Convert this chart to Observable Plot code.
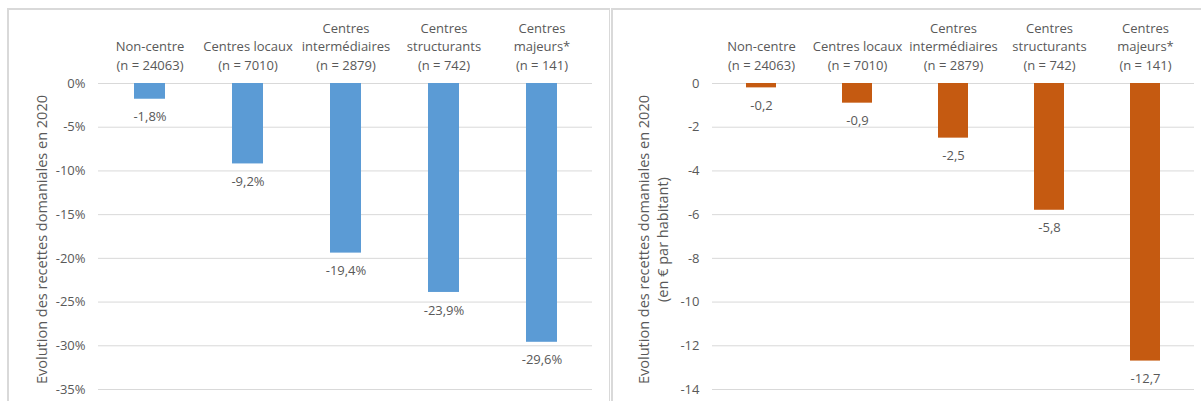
<!DOCTYPE html>
<html>
<head>
<meta charset="utf-8">
<script src="https://cdn.jsdelivr.net/npm/d3@7"></script>
<script src="https://cdn.jsdelivr.net/npm/@observablehq/plot@0.6"></script>
<style>
  html, body { margin: 0; padding: 0; background: #fff; }
  #wrap { position: relative; width: 1201px; height: 401px; overflow: hidden; background: #fff; }
  .panel { position: absolute; top: 8px; height: 420px; border: 1px solid #d9d9d9; box-sizing: border-box; }
  .chart { position: absolute; top: 0; }
</style>
</head>
<body>
<div id="wrap">
  <div class="panel" style="left:7px; width:603px; border-width:2px 1px 1px 2px;"></div>
  <div class="panel" style="left:611px; width:620px; border-width:2px 1px 1px 2px;"></div>
  <div class="chart" id="left" style="left:0px;"></div>
  <div class="chart" id="right" style="left:611px;"></div>
</div>
<script>
const categories = [
  "Non-centre\n(n = 24063)",
  "Centres locaux\n(n = 7010)",
  "Centres\nintermédiaires\n(n = 2879)",
  "Centres\nstructurants\n(n = 742)",
  "Centres\nmajeurs*\n(n = 141)"
];
const pctValues = [-1.8, -9.2, -19.4, -23.9, -29.6];
const perHabValues = [-0.2, -0.9, -2.5, -5.8, -12.7];
const pctTicks = [0, -5, -10, -15, -20, -25, -30, -35];
const perHabTicks = [0, -2, -4, -6, -8, -10, -12, -14];
const leftTitle = "Evolution des recettes domaniales en 2020";
const rightTitle = "Evolution des recettes domaniales en 2020\n(en € par habitant)";

const gray = "#595959";
const fmt = (v) => v.toFixed(1).replace(".", ",");

function makeChart({values, ticks, domain, color, tickFmt, labelFmt, title, width, marginLeft, marginRight, titleDx}) {
  const data = categories.map((c, i) => ({cat: c, v: values[i]}));
  return Plot.plot({
    width,
    height: 401,
    marginTop: 83,
    marginBottom: 12,
    marginLeft,
    marginRight,
    style: {fontFamily: "'Open Sans', sans-serif", fontSize: "13px", color: gray, background: "transparent", overflow: "visible"},
    x: {domain: categories, paddingInner: 0.686, paddingOuter: 0.343, align: 0.5},
    y: {domain, ticks, nice: false},
    marks: [
      Plot.gridY(ticks, {stroke: "#d9d9d9", strokeOpacity: 1, strokeWidth: 1}),
      Plot.barY(data, {x: "cat", y1: 0, y2: "v", fill: color}),
      Plot.text(data, {x: "cat", y: "v", text: (d) => labelFmt(d.v), dy: 18, fill: gray, fontSize: 13, lineAnchor: "middle"}),
      Plot.axisX({anchor: "top", tickSize: 0, tickPadding: 14, lineHeight: 1.42, fontSize: 13, fill: gray, label: null, textOverflow: null, lineWidth: 100}),
      Plot.axisY({ticks, tickSize: 0, tickPadding: 13, tickFormat: tickFmt, fill: gray, fontSize: 13, label: null}),
      Plot.text([title], {frameAnchor: "left", textAnchor: "middle", rotate: -90, dx: titleDx, dy: 3, fill: gray, fontSize: 14.5, lineAnchor: "middle", lineHeight: 1.3})
    ]
  });
}

document.getElementById("left").appendChild(makeChart({
  values: pctValues, ticks: pctTicks, domain: [-35, 0], color: "#5b9bd5",
  tickFmt: (d) => `${d}%`, labelFmt: (v) => fmt(v) + "%",
  title: leftTitle, width: 611, marginLeft: 98, marginRight: 19, titleDx: -58
}));
document.getElementById("right").appendChild(makeChart({
  values: perHabValues, ticks: perHabTicks, domain: [-14, 0], color: "#c55a11",
  tickFmt: (d) => `${d}`, labelFmt: (v) => fmt(v),
  title: rightTitle, width: 590, marginLeft: 101, marginRight: 7, titleDx: -60
}));
</script>
</body>
</html>
